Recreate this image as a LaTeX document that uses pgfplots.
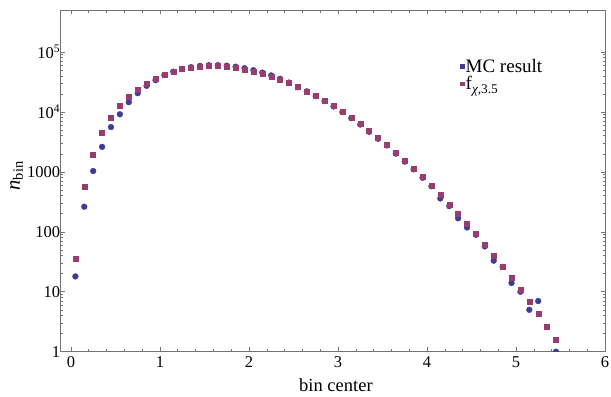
\documentclass[border=0pt]{standalone}
\usepackage{pgfplots}
\pgfplotsset{compat=1.18}
\usepackage{fontspec}
\setmainfont{Liberation Serif}

\definecolor{mcblue}{rgb}{0.24,0.24,0.60}
\definecolor{chipurple}{rgb}{0.60,0.24,0.44}
\definecolor{framegray}{gray}{0.45}

\begin{document}
\begin{tikzpicture}
\begin{axis}[
  at={(0,0)}, anchor=south west,
  scale only axis,
  width=545bp, height=341.7bp,
  ymode=log,
  xmin=-0.115, xmax=6.008,
  ymin=1, ymax=5e5,
  axis line style={framegray, line width=0.6pt},
  tick style={framegray, line width=0.5pt},
  tick align=inside,
  major tick length=4.5bp,
  minor tick length=2.6bp,
  xtick={0,1,2,3,4,5,6},
  minor x tick num=4,
  ytick={1,10,100,1000,1e4,1e5},
  yticklabels={1,10,100,1000,10\textsuperscript{4},10\textsuperscript{5}},
  /pgf/number format/assume math mode=true,
  tick label style={font=\fontsize{16.5bp}{19bp}\selectfont, black},
  xticklabel style={yshift=-1.5bp},
  yticklabel style={xshift=3bp},
  xlabel={bin center},
  ylabel={\textit{n}\textsubscript{bin}},
  every axis x label/.style={at={(axis description cs:0.505,-0.098)}, anchor=center,
    font=\fontsize{18.5bp}{22bp}\selectfont},
  every axis y label/.style={at={(axis description cs:-0.081,0.515)}, anchor=center, rotate=90,
    font=\fontsize{20.5bp}{24bp}\selectfont},
  clip marker paths=true,
  legend style={at={(0.733,0.862)}, anchor=north west, draw=none, fill=none,
    font=\fontsize{19bp}{22bp}\selectfont, row sep=0bp,
    inner sep=0pt, nodes={inner sep=1.5bp}},
  legend cell align=left,
]
% Monte Carlo histogram counts
\addplot[only marks, mark=*, mark size=2.9bp, mcblue, mark options={draw=none, fill=mcblue},
  legend image code/.code={\fill[mcblue] (-1.7bp,-1.7bp) rectangle (1.7bp,1.7bp);}]
  table[row sep=\\] {
x y \\
0.05 18 \\ 0.15 262 \\ 0.25 1030 \\ 0.35 2610 \\ 0.45 5580 \\
0.55 9120 \\ 0.65 14500 \\ 0.75 20500 \\ 0.85 27200 \\ 0.95 33800 \\
1.05 41000 \\ 1.15 46900 \\ 1.25 51700 \\ 1.35 55600 \\ 1.45 58500 \\
1.55 60000 \\ 1.65 60100 \\ 1.75 58900 \\ 1.85 56700 \\ 1.95 53500 \\
2.05 49600 \\ 2.15 45200 \\ 2.25 40500 \\ 2.35 35600 \\ 2.45 30800 \\
2.55 25800 \\ 2.65 22000 \\ 2.75 18300 \\ 2.85 15100 \\ 2.95 12300 \\
3.05 9900 \\ 3.15 7850 \\ 3.25 6150 \\ 3.35 4650 \\ 3.45 3560 \\
3.55 2760 \\ 3.65 2010 \\ 3.75 1480 \\ 3.85 1100 \\ 3.95 795 \\
4.05 575 \\ 4.15 360 \\ 4.25 268 \\ 4.35 168 \\ 4.45 118 \\
4.55 89 \\ 4.65 57 \\ 4.75 33 \\ 4.85 26 \\ 4.95 14 \\
5.05 10 \\ 5.15 5 \\ 5.25 7 \\ 5.45 1 \\
};
\addlegendentry{MC result}
% chi distribution, k = 3.5, expected counts per bin
\addplot[only marks, mark=square*, mark size=2.5bp, chipurple, mark options={draw=none, fill=chipurple},
  legend image code/.code={\fill[chipurple] (-1.7bp,-1.7bp) rectangle (1.7bp,1.7bp);}]
  table[row sep=\\] {
x y \\
0.05 36.1 \\ 0.15 557.5 \\ 0.25 1959.5 \\ 0.35 4410 \\ 0.45 7942 \\
0.55 12477 \\ 0.65 17841 \\ 0.75 23790 \\ 0.85 30029 \\ 0.95 36243 \\
1.05 42116 \\ 1.15 47365 \\ 1.25 51744 \\ 1.35 55076 \\ 1.45 57246 \\
1.55 58214 \\ 1.65 57999 \\ 1.75 56683 \\ 1.85 54406 \\ 1.95 51319 \\
2.05 47601 \\ 2.15 43468 \\ 2.25 39080 \\ 2.35 34623 \\ 2.45 30226 \\
2.55 26016 \\ 2.65 22083 \\ 2.75 18494 \\ 2.85 15283 \\ 2.95 12466 \\
3.05 10038 \\ 3.15 7978 \\ 3.25 6263 \\ 3.35 4858 \\ 3.45 3722 \\
3.55 2817 \\ 3.65 2107 \\ 3.75 1557 \\ 3.85 1137.8 \\ 3.95 821.4 \\
4.05 586.1 \\ 4.15 413.4 \\ 4.25 288.2 \\ 4.35 198.7 \\ 4.45 135.5 \\
4.55 91.3 \\ 4.65 60.9 \\ 4.75 40.1 \\ 4.85 26.2 \\ 4.95 16.9 \\
5.05 10.75 \\ 5.15 6.78 \\ 5.25 4.23 \\ 5.35 2.61 \\ 5.45 1.59 \\
5.55 0.96 \\
};
\addlegendentry{f\textsubscript{\textit{χ},3.5}}
\end{axis}
\pgfresetboundingbox
\path[use as bounding box] (-60.7bp,-45.3bp) rectangle (550.3bp,351.7bp);
\end{tikzpicture}
\end{document}
